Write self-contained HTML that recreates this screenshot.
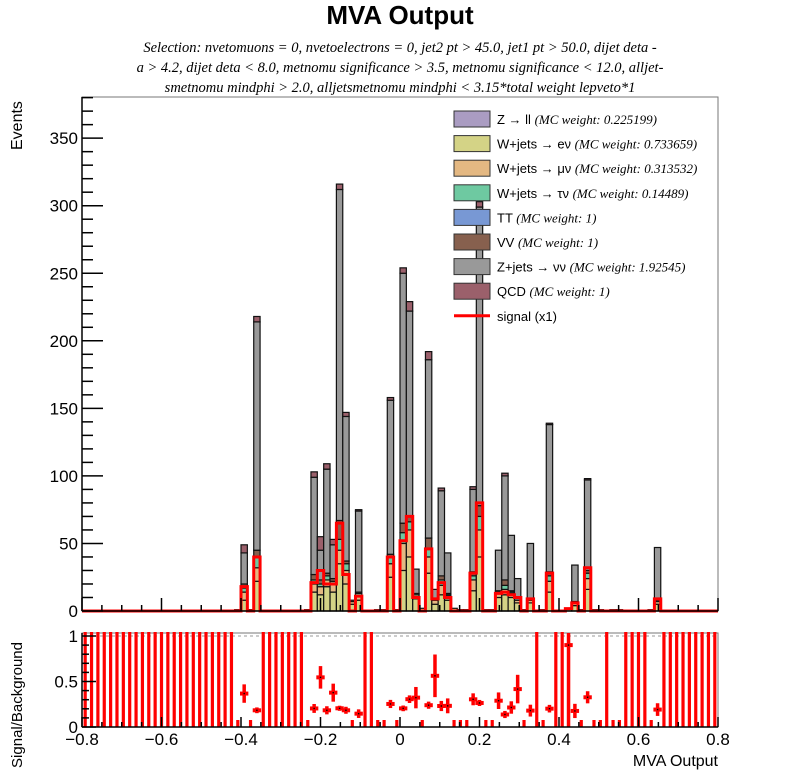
<!DOCTYPE html>
<html><head><meta charset="utf-8"><style>
body{margin:0;background:#fff;}
svg{display:block;font-family:"Liberation Sans",sans-serif;}
</style></head><body>
<svg id="c" width="798" height="775" viewBox="0 0 798 775">
<text x="400" y="24" text-anchor="middle" font-size="26" font-weight="bold">MVA Output</text>
<g font-family="Liberation Serif,serif" font-style="italic" font-size="14.5" text-anchor="middle">
<text x="400" y="52">Selection: nvetomuons = 0, nvetoelectrons = 0, jet2 pt &gt; 45.0, jet1 pt &gt; 50.0, dijet deta -</text>
<text x="400" y="72">a &gt; 4.2, dijet deta &lt; 8.0, metnomu significance &gt; 3.5, metnomu significance &lt; 12.0, alljet-</text>
<text x="400" y="92">smetnomu mindphi &gt; 2.0, alljetsmetnomu mindphi &lt; 3.15*total weight lepveto*1</text>
</g>
<g id="main"></g>
<g id="ratio"></g>
<g id="legend"></g>
<text transform="translate(22,150) rotate(-90)" text-anchor="start" font-size="16">Events</text>
<text transform="translate(22,705) rotate(-90)" text-anchor="middle" font-size="15">Signal/Background</text>
<text x="718" y="766" text-anchor="end" font-size="16">MVA Output</text>
</svg>
<script>
const binIdx = [24,25,26,27,35,36,37,38,39,40,41,42,43,46,47,48,49,50,51,52,53,54,55,56,57,58,59,60,61,62,63,64,65,66,67,68,69,70,72,73,76,77,78,79,80,81,83,84,89,90];
const wenu   = [1,8,1,22,1,14,12,18,14,35,20,5,8,1,1,25,1,30,40,9,2,28,5,12,8,2,1,1,15,40,1,1,10,12,10,6,1,6,1,14,2,4,1,16,1,1,1,1,1,5];
const wmunu  = [0,6,0,10,0,6,6,5,6,10,10,2,3,0,0,10,0,20,20,3,0,12,3,7,3,0,0,0,8,20,0,0,3,4,3,2,0,2,0,8,0,2,0,8,0,0,0,0,0,2];
const wtaunu = [0,3,0,8,0,3,2,3,2,8,5,0,2,0,0,5,0,8,6,1,0,6,1,4,1,0,0,0,3,10,0,0,1,3,1,0,0,1,0,4,0,1,0,4,0,0,0,0,0,1];
const vv     = [0,3,0,5,0,4,3,2,2,14,2,0,1,0,0,2,0,7,4,0,0,8,0,3,1,0,0,0,3,8,0,0,1,4,1,0,0,0,0,3,0,0,0,2,0,0,0,0,0,0];
const zjets  = [0,23,0,169,0,72,22,77,25,245,107,1,60,0,0,114,0,185,152,18,0,132,7,63,30,0,0,0,61,221,0,0,30,77,41,16,0,41,0,109,0,27,0,67,0,0,0,0,0,39];
const qcd    = [0,6,0,4,0,4,10,4,4,4,3,0,1,0,0,2,0,4,7,0,0,6,0,2,0,0,0,0,2,4,0,0,0,2,0,0,0,0,0,1,0,0,0,1,0,0,0,0,0,0];
const sigIdx = [25,27,36,37,38,39,40,41,43,48,50,51,52,54,55,56,57,61,62,65,66,67,68,70,73,76,77,79,90];
const sigVal = [18,40,21,30,20,20,65,27,11,40,52,70,10,46,9,21,10,28,80,13,14,12,10,9,28,1.8,6,32,9];
const yTicks = [0,50,100,150,200,250,300,350];
const xTicks = [-0.8,-0.6,-0.4,-0.2,0,0.2,0.4,0.6,0.8];
const rTicks = [0,0.5,1];
const legendLabels = [["Z \u2192 ll","(MC weight: 0.225199)"],["W+jets \u2192 e\u03bd","(MC weight: 0.733659)"],["W+jets \u2192 \u03bc\u03bd","(MC weight: 0.313532)"],["W+jets \u2192 \u03c4\u03bd","(MC weight: 0.14489)"],["TT","(MC weight: 1)"],["VV","(MC weight: 1)"],["Z+jets \u2192 \u03bd\u03bd","(MC weight: 1.92545)"],["QCD","(MC weight: 1)"],["signal (x1)",""]];

const NB=100, X0=82, X1=718, BW=(X1-X0)/NB;
const xs=v=>X0+(v+0.8)/1.6*(X1-X0);
const ys=v=>611-v*1.351;
const yr=v=>727-v*91;
const NS="http://www.w3.org/2000/svg";
function mk(tag,attrs,parent){const e=document.createElementNS(NS,tag);for(const k in attrs)e.setAttribute(k,attrs[k]);parent.appendChild(e);return e;}
const main=document.getElementById('main'), ratio=document.getElementById('ratio'), leg=document.getElementById('legend');
const colors={wenu:'#d4d386',wmunu:'#e4b882',wtaunu:'#6ec9a1',tt:'#7898d4',vv:'#87604e',zjets:'#999999',qcd:'#9b606b',zll:'#aa9cc2'};

let f=mk('rect',{x:X0,y:97,width:X1-X0,height:514,fill:'none',stroke:'#777','stroke-width':1},main);

const comps=[[wenu,colors.wenu,'wenu'],[wmunu,colors.wmunu,'wmunu'],[wtaunu,colors.wtaunu,'wtaunu'],[vv,colors.vv,'vv'],[zjets,colors.zjets,'zjets'],[qcd,colors.qcd,'qcd']];
const bkg=new Array(NB).fill(0);
binIdx.forEach((b,i)=>{
  let cum=0;
  comps.forEach(([arr,col,nm])=>{
    const v=arr[i]; if(v<=0) return;
    const r=mk('rect',{x:X0+b*BW,y:ys(cum+v),width:BW,height:ys(cum)-ys(cum+v),fill:col,stroke:'#111','stroke-width':1.2},main);
    
    
    cum+=v;
  });
  bkg[b]=cum;
});
const sig=new Array(NB).fill(0);
sigIdx.forEach((b,i)=>sig[b]=sigVal[i]);
let d='M'+X0+','+ys(0);
for(let b=0;b<NB;b++){d+=' L'+(X0+b*BW)+','+ys(sig[b])+' L'+(X0+(b+1)*BW)+','+ys(sig[b]);}
d+=' L'+X1+','+ys(0);
let sp=mk('path',{d:d,fill:'none',stroke:'#ff0000','stroke-width':3},main);

mk('line',{x1:X0,y1:97,x2:X0,y2:611,stroke:'#000','stroke-width':1.5},main);
mk('line',{x1:X0,y1:611,x2:X1,y2:611,stroke:'#000','stroke-width':1.5},main);
for(let v=0;v<=380;v+=10){const y=ys(v);mk('line',{x1:X0,y1:y,x2:X0+(v%50===0?21:11),y2:y,stroke:'#000','stroke-width':1.5},main);}
yTicks.forEach(v=>{const t=mk('text',{x:X0-4,y:ys(v)+6,'text-anchor':'end','font-size':17},main);t.textContent=v;
});
for(let v=-0.8;v<=0.801;v+=0.05){const x=xs(v);const maj=Math.abs(Math.round(v*5)-v*5)<1e-6;
 mk('line',{x1:x,y1:611,x2:x,y2:611-(maj?13:6),stroke:'#000','stroke-width':1.5},main);}
let rf=mk('rect',{x:X0,y:633,width:X1-X0,height:94,fill:'none',stroke:'#777','stroke-width':1},ratio);

mk('line',{x1:X0,y1:yr(1),x2:X1,y2:yr(1),stroke:'#999','stroke-dasharray':'3,3','stroke-width':1},ratio);
for(let b=0;b<NB;b++){
  const cx=X0+(b+0.5)*BW;
  if(bkg[b]===0){
    const l=mk('line',{x1:cx,y1:727,x2:cx,y2:632,stroke:'#ff0000','stroke-width':3.2},ratio);
    
  } else if(sig[b]===0){
    const l=mk('line',{x1:cx,y1:727,x2:cx,y2:720,stroke:'#ff0000','stroke-width':3.2},ratio);
    
  } else {
    const r=sig[b]/bkg[b]; const e=r*Math.sqrt(1/sig[b]+1/bkg[b]);
    const g=mk('g',{},ratio);
    
    mk('line',{x1:cx,y1:Math.max(633,yr(r+e)),x2:cx,y2:Math.min(727,yr(r-e)),stroke:'#ff0000','stroke-width':3.5},g);
    mk('line',{x1:cx-BW/2-1,y1:yr(r),x2:cx+BW/2+1,y2:yr(r),stroke:'#ff0000','stroke-width':4},g);
    mk('rect',{x:cx-0.7,y:yr(r)-0.7,width:1.4,height:1.4,fill:'#000'},g);
  }
}
mk('line',{x1:X0,y1:633,x2:X0,y2:727,stroke:'#000','stroke-width':1.5},ratio);
mk('line',{x1:X0,y1:727,x2:X1,y2:727,stroke:'#000','stroke-width':1.5},ratio);
for(let v=0;v<=1.001;v+=0.1){const y=yr(v);const maj=Math.abs(v-0.5)<1e-6||v<1e-6||Math.abs(v-1)<1e-6;
 mk('line',{x1:X0,y1:y,x2:X0+(maj?14:7),y2:y,stroke:'#000','stroke-width':1.5},ratio);}
rTicks.forEach(v=>{const t=mk('text',{x:X0-4,y:yr(v)+6,'text-anchor':'end','font-size':17},ratio);t.textContent=v;
});
for(let v=-0.8;v<=0.801;v+=0.05){const x=xs(v);const maj=Math.abs(Math.round(v*5)-v*5)<1e-6;
 mk('line',{x1:x,y1:727,x2:x,y2:727-(maj?10:5),stroke:'#000','stroke-width':1.5},ratio);}
xTicks.forEach(v=>{const t=mk('text',{x:xs(v),y:745,'text-anchor':'middle','font-size':17},ratio);
t.textContent=(v<0?'\u2212':'')+(v===0?'0':Math.abs(v).toFixed(1));
});
const legCols=[colors.zll,colors.wenu,colors.wmunu,colors.wtaunu,colors.tt,colors.vv,colors.zjets,colors.qcd,null];
legendLabels.forEach((lab,i)=>{
  const y=119+i*24.6;
  const g=mk('g',{},leg);
  
  if(legCols[i]) mk('rect',{x:454,y:y-8,width:36,height:16,fill:legCols[i],stroke:'#333','stroke-width':1},g);
  else mk('line',{x1:454,y1:y,x2:490,y2:y,stroke:'#ff0000','stroke-width':3},g);
  const t=mk('text',{x:497,y:y+5,'font-size':13},g);
  t.textContent=lab[0]+' ';
  if(lab[1]){const ts=mk('tspan',{'font-family':'Liberation Serif,serif','font-style':'italic'},t);ts.textContent=lab[1];}
});
</script>
</body></html>
